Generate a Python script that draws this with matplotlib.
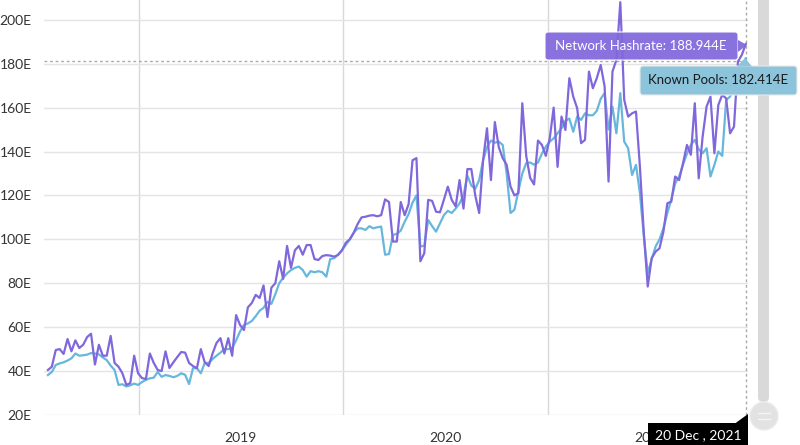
import matplotlib
matplotlib.use("Agg")
import matplotlib.pyplot as plt
from matplotlib.patches import FancyBboxPatch, Polygon, Circle
import pandas as pd

plt.rcParams['font.family'] = ['Lato', 'DejaVu Sans']

# weekly samples, 23 Jul 2018 .. 20 Dec 2021
dates = pd.date_range('2018-07-23', periods=179, freq='7D')

network = [
    40.5, 42, 49.6, 50, 47.8, 54.6, 49, 54, 50.5, 52, 55.5, 57, 43, 52, 47, 47,
    56, 43.7, 42, 39, 33.7, 34.5, 47, 39, 36.8, 36.4, 48, 43.7, 40.5, 40, 49,
    41.4, 44, 46.4, 48.7, 48.4, 43.7, 42.3, 41.3, 50, 44, 42.3, 48, 52.8, 55,
    48, 55, 47, 65.5, 61, 58.7, 69, 71, 74.7, 73.3, 79, 64.6, 78,
    80, 90, 82, 97, 87, 95, 97, 93, 97.4, 97.4, 91, 90.6, 92.4, 92.8, 92.6,
    92.1, 92.9,
    95, 98.5, 100, 103, 107, 110, 110.3, 110.8, 111, 110.5, 111, 118.2, 117,
    99, 99, 117, 111, 116, 136, 137, 90, 93.7, 118, 117.5, 112.6, 112.3, 118,
    124, 118, 115, 127, 114, 132, 132, 120, 112, 136, 150.6, 127, 153.4, 142,
    137, 134, 124, 120, 121, 162, 138, 128, 125, 145, 143, 138, 146, 160, 133,
    155.9, 149.8, 173.4, 165, 159.7, 143.8, 145.3, 176.4, 168.8, 173.4, 179.4,
    169.6, 126.3, 176.4, 181.7, 208, 163.5, 155.9, 157.4, 158.2, 133.1, 102.8,
    78.5, 91.4, 94.4, 95.9, 103.5, 116.4, 117.2, 128.6, 127, 134.7, 143, 138.5,
    162, 127.8, 146.8, 160.4, 165, 139.2, 161.2, 165.8, 164.2, 148.3, 151.3,
    181, 184, 188.944,
]

pools = [
    38.2, 39.6, 42.8, 43.5, 44, 44.8, 45.8, 48, 47, 47.2, 47.5, 48.2, 48, 47.6,
    46.2, 45, 42.5, 40.5, 33.7, 34, 33, 33.5, 34.3, 33.7, 35, 36, 36.7, 37,
    39.6, 37.4, 38.2, 37.8, 37.2, 37.8, 39, 38.3, 34.1, 41.3, 41.3, 39, 43.7,
    43.7, 45.5, 47, 48.4, 50, 50, 50.5, 54, 58, 61, 61.7, 62.8, 65, 67.5, 68.8,
    71.5, 70.6,
    75, 80, 82.5, 84.5, 86, 87, 87.6, 86, 83, 85.5, 85, 85.5, 85, 83, 91, 91.4,
    93,
    95, 97.5, 100, 103, 105, 105, 104.3, 106, 105, 105.5, 105.8, 93, 93.3, 102,
    102.5, 104, 108, 111.5, 116.7, 120, 96.7, 97.1, 108.8, 106, 103.5, 107.3,
    111, 113, 112, 114, 116.4, 120, 129, 124.5, 123, 127, 136, 142, 145, 144,
    144.5, 143, 130, 112, 113.5, 122, 130, 134.7, 135, 134, 135, 139, 142.2,
    144.5, 146, 148.3,
    150.6, 154, 155, 149, 156, 154.4, 157.4, 156.5, 156.5, 158.5, 164, 166.6,
    150, 160.4, 148.3, 166.6, 144.5, 141.5, 129.3, 133.9, 121, 101.4, 84.5, 91,
    96.7, 100, 105, 112, 118, 125.5, 128.6, 134, 139, 143, 145.3, 141, 139.2,
    141.5, 128.6, 133.9, 140, 138, 163.5, 165, 168.5, 168, 175.6, 182.414,
]

y_ticks = [20, 40, 60, 80, 100, 120, 140, 160, 180, 200]
years = [2019, 2020, 2021]

purple = '#8067dc'
blue = '#67b7dc'

fig = plt.figure(figsize=(8, 4.45), dpi=100)
ax = fig.add_axes([44 / 800, 30 / 445, 704 / 800, 415 / 445])

ax.plot(dates, pools, color=blue, lw=1.6, zorder=3)
ax.plot(dates, network, color=purple, lw=1.6, zorder=4)

ax.set_xlim(pd.Timestamp('2018-07-16'), pd.Timestamp('2021-12-24'))
ax.set_ylim(20, 209)

ax.set_yticks(y_ticks)
ax.set_yticklabels([f'{v}E' for v in y_ticks])
ax.grid(axis='y', color='#e4e4e4', lw=1)

# year gridlines, labels in the middle of each year
ax.set_xticks([pd.Timestamp(f'{y}-01-01') for y in years])
ax.set_xticklabels([])
ax.set_xticks([pd.Timestamp(f'{y}-07-02') for y in years], minor=True)
ax.set_xticklabels([str(y) for y in years], minor=True)
ax.grid(axis='x', which='major', color='#d8d8d8', lw=1)
ax.tick_params(axis='both', which='both', length=0, labelsize=10,
               labelcolor='#333333')
ax.tick_params(axis='y', pad=9)
ax.tick_params(axis='x', which='minor', pad=12)
for s in ax.spines.values():
    s.set_visible(False)

# cursor crosshair
ax.axhline(181.3, color='#aaaaaa', lw=1, ls=(0, (2, 2)), zorder=2)
ax.axvline(dates[-1], color='#aaaaaa', lw=1, ls=(0, (2, 2)), zorder=2)

# overlay in pixel coordinates for tooltips and scrollbar
ov = fig.add_axes([0, 0, 1, 1])
ov.set_xlim(0, 800)
ov.set_ylim(445, 0)
ov.axis('off')
ov.patch.set_alpha(0)

# scrollbar
ov.add_patch(FancyBboxPatch((758, -10), 11, 412, boxstyle='round,pad=0,rounding_size=5',
                            fc='#d9d9d9', ec='none'))
ov.add_patch(Circle((764, 416), 14, fc='#e2e2e2', ec='#ececec', lw=1))
ov.plot([758, 770], [413, 413], color='#f4f4f4', lw=1)
ov.plot([758, 770], [419, 419], color='#f4f4f4', lw=1)

# network tooltip
ov.add_patch(FancyBboxPatch((545, 32), 193, 28, boxstyle='round,pad=0,rounding_size=3',
                            fc=purple, ec='#ffffff', lw=0.8, alpha=0.93))
ov.add_patch(Polygon([(738, 40), (747, 45), (738, 52)], closed=True, fc=purple,
                     ec='none', alpha=0.93))
ov.text(641, 46.5, f'Network Hashrate: {network[-1]:.3f}E', color='white',
        fontsize=9.5, ha='center', va='center')

# pools tooltip
ov.add_patch(FancyBboxPatch((640, 66), 157, 29, boxstyle='round,pad=0,rounding_size=3',
                            fc='#8cc4dc', ec='#e8e8e8', lw=0.8))
ov.add_patch(Polygon([(737, 66.5), (745, 58), (752, 66.5)], closed=True,
                     fc='#8cc4dc', ec='none'))
ov.text(718, 80.5, f'Known Pools: {pools[-1]:.3f}E', color='#1a1a1a',
        fontsize=9.5, ha='center', va='center')

# date tooltip (covers most of the last year label, as in the reference)
last = dates[-1]
ov.add_patch(Polygon([(648, 423), (748, 423), (748, 450), (648, 450)], closed=True,
                     fc='black', ec='none'))
ov.add_patch(Polygon([(735, 423.5), (748, 414), (748, 423.5)], closed=True,
                     fc='black', ec='none'))
ov.text(698, 435, f'{last.day} {last:%b} , {last.year}', color='white',
        fontsize=10, ha='center', va='center')

fig.savefig('out.png', dpi=100)
